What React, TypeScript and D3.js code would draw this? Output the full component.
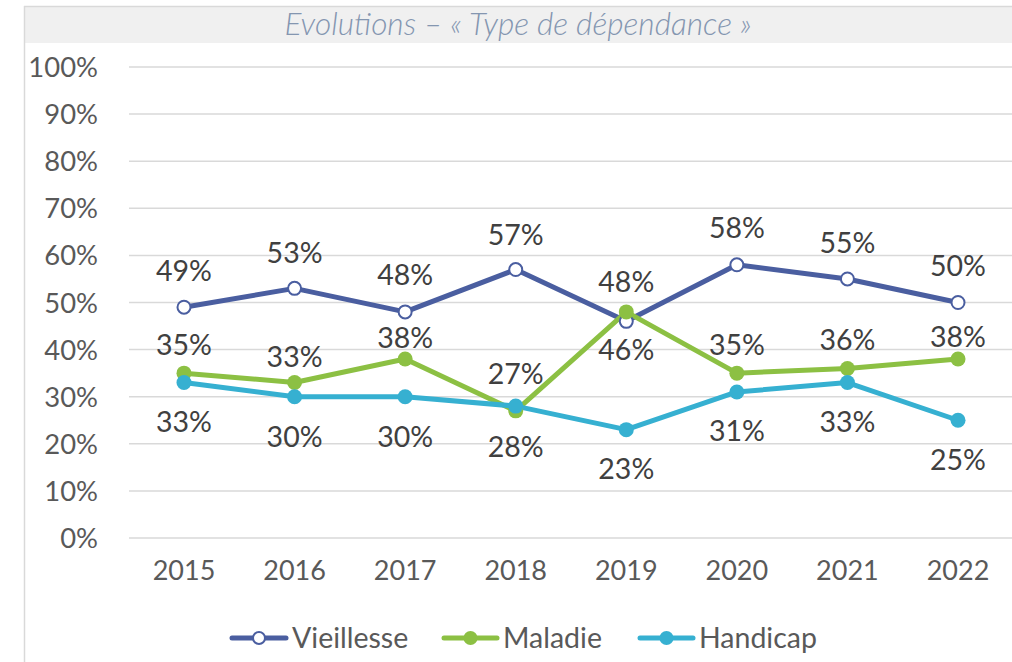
import React from "react";
import * as d3 from "d3";

const years = ["2015", "2016", "2017", "2018", "2019", "2020", "2021", "2022"];
const vieillesse = [49, 53, 48, 57, 46, 58, 55, 50];
const maladie = [35, 33, 38, 27, 48, 35, 36, 38];
const handicap = [33, 30, 30, 28, 23, 31, 33, 25];
const yTicks = [0, 10, 20, 30, 40, 50, 60, 70, 80, 90, 100];
// data-label lift above the point, in px (negative = below)
const vieillesseLift = [36, 35, 37, 35, -29, 37, 36, 37];
const maladieLift = [28, 26, 21, 37, 30, 28, 28, 22];
const handicapLift = [-39, -40, -40, -41, -39, -39, -39, -40];

const W = 1012;
const H = 662;
const FONT = "Lato, 'Open Sans', sans-serif";

export default function App() {
  const x = d3.scaleBand<string>().domain(years).range([128.7, 1013.3]);
  const y = d3.scaleLinear().domain([0, 100]).range([538, 67]);
  const cx = (i: number) => (x(years[i]) as number) + x.bandwidth() / 2;
  const line = d3
    .line<number>()
    .x((_, i) => cx(i))
    .y((d) => y(d));

  const series = [
    { name: "Vieillesse", data: vieillesse, lift: vieillesseLift, color: "#4a5ea0", hollow: true },
    { name: "Maladie", data: maladie, lift: maladieLift, color: "#8cc043", hollow: false },
    { name: "Handicap", data: handicap, lift: handicapLift, color: "#36b0d1", hollow: false },
  ];

  const legendItems = [
    { x0: 232, x1: 286, tx: 292 },
    { x0: 444, x1: 497, tx: 503 },
    { x0: 640, x1: 693, tx: 699 },
  ];

  return (
    <svg
      width={W}
      height={H}
      style={{ position: "absolute", left: 0, top: 0, background: "#fff" }}
      fontFamily={FONT}
    >
      {/* title band */}
      <rect x={24} y={6} width={W - 24} height={37} fill="#f0f0f0" />
      <line x1={24} x2={W} y1={6.5} y2={6.5} stroke="#d9d9d9" strokeWidth={1.5} />
      <line x1={24.5} x2={24.5} y1={6} y2={H} stroke="#d9d9d9" strokeWidth={1.5} />
      <text
        x={518}
        y={35}
        textAnchor="middle"
        fontSize={31}
        fontStyle="italic"
        fontWeight={300}
        fill="#8496b0"
        textLength={467}
        lengthAdjust="spacingAndGlyphs"
      >
        Evolutions – « Type de dépendance »
      </text>

      {/* grid + y axis */}
      {yTicks.map((t) => (
        <g key={t}>
          <line x1={129} x2={W} y1={y(t)} y2={y(t)} stroke="#d9d9d9" strokeWidth={1.5} />
          <text x={98} y={y(t) + 10} textAnchor="end" fontSize={27.4} fill="#595959">
            {t}%
          </text>
        </g>
      ))}

      {/* x axis labels */}
      {years.map((yr, i) => (
        <text key={yr} x={cx(i)} y={580} textAnchor="middle" fontSize={27} fill="#595959">
          {yr}
        </text>
      ))}

      {/* lines */}
      {series.map((s) => (
        <path
          key={s.name}
          d={line(s.data) as string}
          fill="none"
          stroke={s.color}
          strokeWidth={5}
          strokeLinejoin="round"
          strokeLinecap="round"
        />
      ))}

      {/* markers */}
      {series.map((s) =>
        s.data.map((v, i) => (
          <circle
            key={s.name + i}
            cx={cx(i)}
            cy={y(v)}
            r={s.hollow ? 6.5 : 7.5}
            fill={s.hollow ? "#fff" : s.color}
            stroke={s.color}
            strokeWidth={s.hollow ? 2 : 0}
          />
        ))
      )}

      {/* data labels */}
      {series.map((s) =>
        s.data.map((v, i) => (
          <text
            key={"l" + s.name + i}
            x={cx(i)}
            y={y(v) - s.lift[i] + 10}
            textAnchor="middle"
            fontSize={28.5}
            fill="#404040"
          >
            {v}%
          </text>
        ))
      )}

      {/* legend */}
      {series.map((s, k) => {
        const L = legendItems[k];
        const mx = (L.x0 + L.x1) / 2;
        return (
          <g key={"lg" + s.name}>
            <line x1={L.x0} x2={L.x1} y1={638} y2={638} stroke={s.color} strokeWidth={5} strokeLinecap="round" />
            <circle
              cx={mx}
              cy={638}
              r={s.hollow ? 6 : 7}
              fill={s.hollow ? "#fff" : s.color}
              stroke={s.color}
              strokeWidth={s.hollow ? 2 : 0}
            />
            <text x={L.tx} y={648} fontSize={28.5} fill="#595959">
              {s.name}
            </text>
          </g>
        );
      })}
    </svg>
  );
}
